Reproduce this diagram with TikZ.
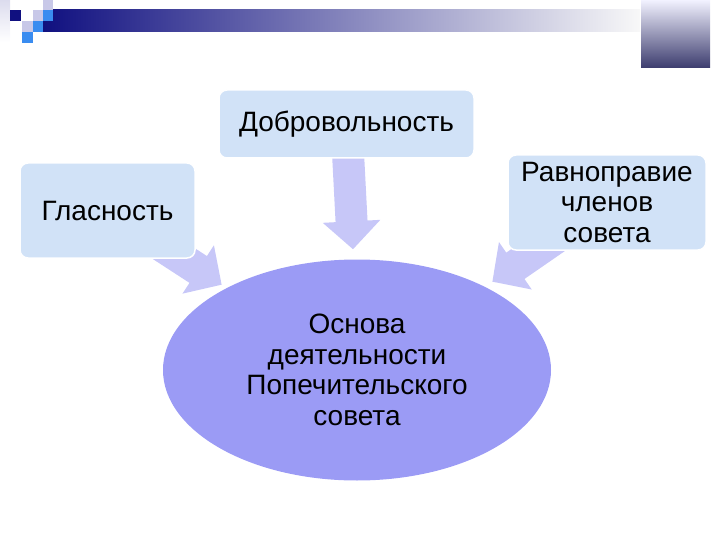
\documentclass[tikz,border=0pt]{standalone}
\usepackage{fontspec}
\setmainfont{Liberation Sans}
\usepackage{xcolor}
\usetikzlibrary{arrows.meta}
\usetikzlibrary{calc}
\usetikzlibrary{shapes.geometric,backgrounds}

\definecolor{boxblue}{RGB}{209,226,247}
\definecolor{ovalblue}{RGB}{155,155,245}
\definecolor{arrowlilac}{RGB}{199,199,248}
\definecolor{navy}{RGB}{16,16,128}
\definecolor{squareblue}{RGB}{58,140,240}
\definecolor{lavender}{RGB}{200,200,232}

\begin{document}
\begin{tikzpicture}[x=1pt,y=-1pt,
		box/.style={fill=boxblue,draw=white,line width=1.5pt,rounded corners=8pt,
			align=center,font=\fontsize{28}{30.5}\selectfont},
		basis/.style={ellipse,fill=ovalblue,minimum width=388pt,minimum height=221pt,
			align=center,font=\fontsize{28}{30.5}\selectfont},
		blockarrow/.style={draw=arrowlilac,line width=32pt,-{Triangle[width=56pt,length=28pt]}}]
		
		\useasboundingbox (0,0) rectangle (720,540);
		
		%--- Header: bar, squares, corner block ---
		\begin{scope}
			% Bar with gradient
			\shade[left color=navy,middle color={rgb,255:red,135;green,135;blue,168},right color={rgb,255:red,248;green,248;blue,248}]
				(43,10) rectangle (640,32);
			% Light strip on the left
			\shade[top color={rgb,255:red,220;green,220;blue,238},bottom color=white] (0,0) rectangle (10,42);
			% Small squares
			\fill[navy] (10,10) rectangle (21,21);
			\fill[lavender] (22,21) rectangle (33,32);
			\fill[squareblue] (22,32) rectangle (33,43);
			\fill[lavender] (33,10) rectangle (43,21);
			\fill[squareblue] (33,21) rectangle (43,32);
			\fill[lavender] (43,0) rectangle (53,10);
			\fill[squareblue] (43,10) rectangle (53,21);
			% Corner block
			\shade[top color={rgb,255:red,242;green,242;blue,255},middle color={rgb,255:red,140;green,140;blue,200},bottom color={rgb,255:red,60;green,60;blue,110}]
				(641,0) rectangle (710,68);
		\end{scope}
		
		%--- Principles and basis ---
		\node[box,minimum width=255pt,minimum height=68pt] (vol) at (346.5,124) {Добровольность};
		\node[box,minimum width=175pt,minimum height=95pt] (glas) at (107.5,210.5) {Гласность};
		\node[box,minimum width=198pt,minimum height=95pt] (equal) at (607,202.5) {Равноправие\\членов\\совета};
		\node[basis] (basis) at (357,370) {Основа\\деятельности\\Попечительского\\совета};
		
		% Arrow tips near the ellipse
		\coordinate (voltip) at ($(basis.north)+(-4,-10)$);
		\coordinate (glastip) at ($(basis.north west)+(2,-7)$);
		\coordinate (equaltip) at ($(basis.north east)+(-2,-10)$);
		
		%--- Block arrows (behind the boxes) ---
		\begin{scope}[on background layer]
			\draw[blockarrow] (vol.center) -- (voltip);
			\draw[blockarrow] (glas.center) -- (glastip);
			\draw[blockarrow] (equal.center) -- (equaltip);
		\end{scope}
		
	\end{tikzpicture}
\end{document}
